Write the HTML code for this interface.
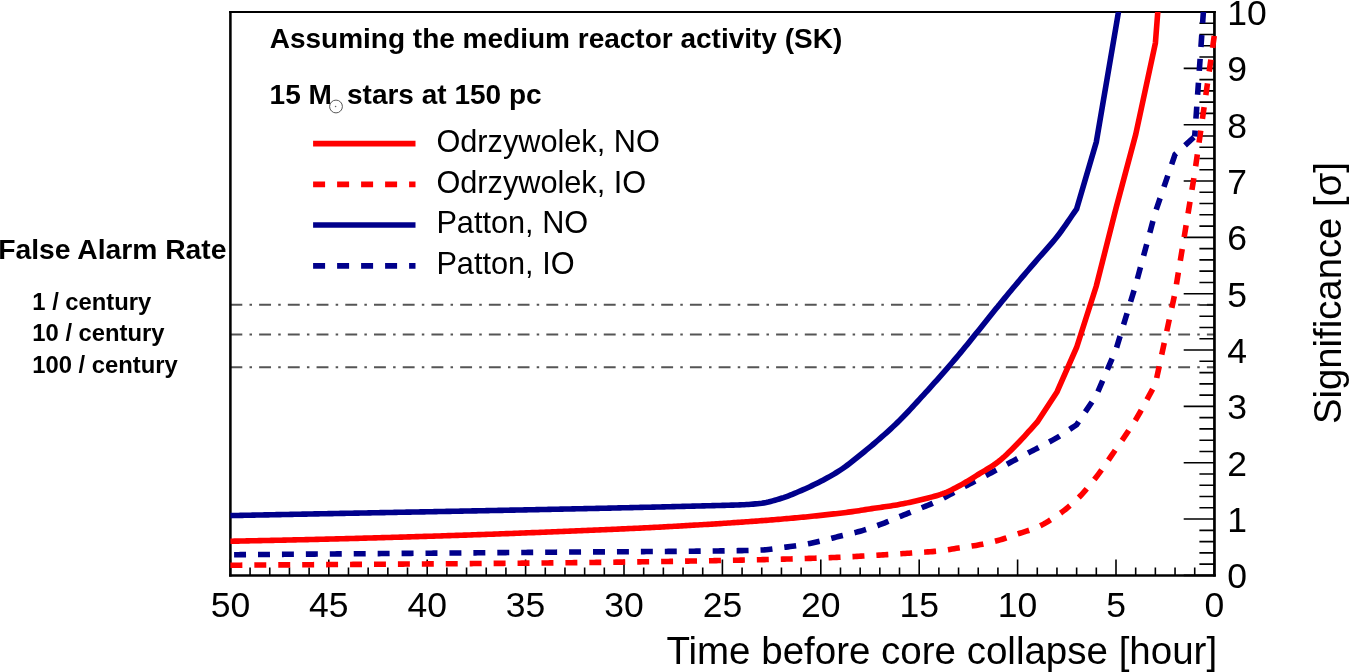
<!DOCTYPE html>
<html><head><meta charset="utf-8"><title>Significance vs time before core collapse</title>
<style>html,body{margin:0;padding:0;background:#fff;overflow:hidden}svg{display:block;will-change:transform}text{font-family:"Liberation Sans",sans-serif}</style>
</head><body>
<svg width="1350" height="672" viewBox="0 0 1350 672">
<defs><clipPath id="fr"><rect x="229.2" y="11.9" width="989" height="564.6"/></clipPath></defs>
<rect x="0" y="0" width="1350" height="672" fill="#fff"/>
<line x1="230.4" y1="304.75" x2="1214.4" y2="304.75" stroke="#555555" stroke-width="1.9" stroke-dasharray="11.9 7.2 2.5 7.12"/>
<line x1="230.4" y1="334.5" x2="1214.4" y2="334.5" stroke="#555555" stroke-width="1.9" stroke-dasharray="11.9 7.2 2.5 7.12"/>
<line x1="230.4" y1="367.25" x2="1214.4" y2="367.25" stroke="#555555" stroke-width="1.9" stroke-dasharray="11.9 7.2 2.5 7.12"/>
<path d="M1214.40 575.40V559.40M1194.72 575.40V567.40M1175.04 575.40V567.40M1155.36 575.40V567.40M1135.68 575.40V567.40M1116.00 575.40V559.40M1096.32 575.40V567.40M1076.64 575.40V567.40M1056.96 575.40V567.40M1037.28 575.40V567.40M1017.60 575.40V559.40M997.92 575.40V567.40M978.24 575.40V567.40M958.56 575.40V567.40M938.88 575.40V567.40M919.20 575.40V559.40M899.52 575.40V567.40M879.84 575.40V567.40M860.16 575.40V567.40M840.48 575.40V567.40M820.80 575.40V559.40M801.12 575.40V567.40M781.44 575.40V567.40M761.76 575.40V567.40M742.08 575.40V567.40M722.40 575.40V559.40M702.72 575.40V567.40M683.04 575.40V567.40M663.36 575.40V567.40M643.68 575.40V567.40M624.00 575.40V559.40M604.32 575.40V567.40M584.64 575.40V567.40M564.96 575.40V567.40M545.28 575.40V567.40M525.60 575.40V559.40M505.92 575.40V567.40M486.24 575.40V567.40M466.56 575.40V567.40M446.88 575.40V567.40M427.20 575.40V559.40M407.52 575.40V567.40M387.84 575.40V567.40M368.16 575.40V567.40M348.48 575.40V567.40M328.80 575.40V559.40M309.12 575.40V567.40M289.44 575.40V567.40M269.76 575.40V567.40M250.08 575.40V567.40M230.40 575.40V559.40M1214.40 575.40H1183.70M1214.40 564.13H1199.40M1214.40 552.86H1199.40M1214.40 541.60H1199.40M1214.40 530.33H1199.40M1214.40 519.06H1183.70M1214.40 507.79H1199.40M1214.40 496.52H1199.40M1214.40 485.26H1199.40M1214.40 473.99H1199.40M1214.40 462.72H1183.70M1214.40 451.45H1199.40M1214.40 440.18H1199.40M1214.40 428.92H1199.40M1214.40 417.65H1199.40M1214.40 406.38H1183.70M1214.40 395.11H1199.40M1214.40 383.84H1199.40M1214.40 372.58H1199.40M1214.40 361.31H1199.40M1214.40 350.04H1183.70M1214.40 338.77H1199.40M1214.40 327.50H1199.40M1214.40 316.24H1199.40M1214.40 304.97H1199.40M1214.40 293.70H1183.70M1214.40 282.43H1199.40M1214.40 271.16H1199.40M1214.40 259.90H1199.40M1214.40 248.63H1199.40M1214.40 237.36H1183.70M1214.40 226.09H1199.40M1214.40 214.82H1199.40M1214.40 203.56H1199.40M1214.40 192.29H1199.40M1214.40 181.02H1183.70M1214.40 169.75H1199.40M1214.40 158.48H1199.40M1214.40 147.22H1199.40M1214.40 135.95H1199.40M1214.40 124.68H1183.70M1214.40 113.41H1199.40M1214.40 102.14H1199.40M1214.40 90.88H1199.40M1214.40 79.61H1199.40M1214.40 68.34H1183.70M1214.40 57.07H1199.40M1214.40 45.80H1199.40M1214.40 34.54H1199.40M1214.40 23.27H1199.40M1214.40 12.00H1183.70" stroke="#000" stroke-width="1.6" fill="none"/>
<path d="M229.1 11.95H1215.8" stroke="#000" stroke-width="1.9" fill="none"/>
<path d="M229.1 575.4H1215.8" stroke="#000" stroke-width="2.45" fill="none"/>
<path d="M230.4 11H230.4V576.6" stroke="#000" stroke-width="2.55" fill="none"/>
<path d="M1214.45 11V576.6" stroke="#000" stroke-width="2.7" fill="none"/>
<g clip-path="url(#fr)" fill="none" stroke-width="5.6" stroke-linejoin="miter" stroke-miterlimit="4">
<polyline points="230.40,565.25 232.41,565.24 234.42,565.22 236.43,565.21 238.44,565.19 240.45,565.18 242.46,565.16 244.47,565.15 246.48,565.13 248.49,565.12 250.50,565.10 252.51,565.09 254.51,565.07 256.52,565.06 258.53,565.05 260.54,565.03 262.55,565.02 264.56,565.00 266.57,564.99 268.58,564.98 270.59,564.96 272.60,564.95 274.61,564.93 276.62,564.92 278.63,564.91 280.64,564.89 282.65,564.88 284.66,564.87 286.67,564.85 288.68,564.84 290.69,564.83 292.70,564.81 294.71,564.80 296.72,564.79 298.73,564.77 300.74,564.76 302.74,564.74 304.75,564.73 306.76,564.72 308.77,564.70 310.78,564.69 312.79,564.68 314.80,564.67 316.81,564.65 318.82,564.64 320.83,564.63 322.84,564.61 324.85,564.60 326.86,564.59 328.87,564.57 330.88,564.56 332.89,564.55 334.90,564.53 336.91,564.52 338.92,564.51 340.93,564.49 342.94,564.48 344.95,564.47 346.96,564.45 348.97,564.44 350.97,564.43 352.98,564.42 354.99,564.40 357.00,564.39 359.01,564.38 361.02,564.36 363.03,564.35 365.04,564.34 367.05,564.32 369.06,564.31 371.07,564.30 373.08,564.28 375.09,564.27 377.10,564.26 379.11,564.24 381.12,564.23 383.13,564.22 385.14,564.20 387.15,564.19 389.16,564.18 391.17,564.16 393.18,564.15 395.19,564.14 397.20,564.12 399.20,564.11 401.21,564.10 403.22,564.08 405.23,564.07 407.24,564.05 409.25,564.04 411.26,564.03 413.27,564.01 415.28,564.00 417.29,563.99 419.30,563.97 421.31,563.96 423.32,563.94 425.33,563.93 427.34,563.91 429.35,563.90 431.36,563.89 433.37,563.87 435.38,563.86 437.39,563.84 439.40,563.83 441.41,563.81 443.42,563.80 445.43,563.78 447.43,563.77 449.44,563.76 451.45,563.74 453.46,563.73 455.47,563.71 457.48,563.70 459.49,563.68 461.50,563.67 463.51,563.65 465.52,563.63 467.53,563.62 469.54,563.60 471.55,563.59 473.56,563.57 475.57,563.56 477.58,563.54 479.59,563.53 481.60,563.51 483.61,563.49 485.62,563.48 487.63,563.46 489.64,563.44 491.65,563.43 493.66,563.41 495.66,563.40 497.67,563.38 499.68,563.36 501.69,563.35 503.70,563.33 505.71,563.31 507.72,563.29 509.73,563.28 511.74,563.26 513.75,563.24 515.76,563.22 517.77,563.21 519.78,563.19 521.79,563.17 523.80,563.15 525.81,563.14 527.82,563.12 529.83,563.10 531.84,563.08 533.85,563.06 535.86,563.04 537.87,563.02 539.88,563.01 541.89,562.99 543.89,562.97 545.90,562.95 547.91,562.93 549.92,562.91 551.93,562.89 553.94,562.87 555.95,562.85 557.96,562.83 559.97,562.81 561.98,562.79 563.99,562.77 566.00,562.75 568.01,562.73 570.01,562.71 572.02,562.69 574.02,562.67 576.03,562.65 578.03,562.62 580.04,562.60 582.04,562.58 584.05,562.56 586.05,562.53 588.06,562.51 590.06,562.49 592.07,562.47 594.07,562.44 596.08,562.42 598.08,562.40 600.09,562.37 602.09,562.35 604.10,562.32 606.10,562.30 608.11,562.27 610.11,562.25 612.12,562.22 614.12,562.20 616.13,562.17 618.13,562.15 620.14,562.12 622.14,562.10 624.15,562.07 626.15,562.04 628.16,562.02 630.16,561.99 632.17,561.96 634.17,561.93 636.18,561.91 638.18,561.88 640.19,561.85 642.19,561.82 644.20,561.79 646.21,561.76 648.21,561.73 650.22,561.71 652.22,561.68 654.23,561.65 656.23,561.62 658.24,561.59 660.24,561.56 662.25,561.52 664.25,561.49 666.26,561.46 668.26,561.43 670.27,561.40 672.27,561.37 674.28,561.34 676.28,561.30 678.29,561.27 680.29,561.24 682.30,561.21 684.30,561.17 686.31,561.14 688.31,561.11 690.32,561.07 692.32,561.04 694.33,561.00 696.33,560.97 698.34,560.93 700.34,560.90 702.35,560.86 704.35,560.83 706.36,560.79 708.36,560.76 710.37,560.72 712.37,560.69 714.38,560.65 716.38,560.61 718.39,560.57 720.39,560.54 722.40,560.50 724.41,560.46 726.42,560.42 728.42,560.39 730.43,560.35 732.44,560.31 734.45,560.27 736.46,560.23 738.47,560.19 740.47,560.15 742.48,560.11 744.49,560.06 746.50,560.02 748.51,559.98 750.51,559.94 752.52,559.89 754.53,559.85 756.54,559.80 758.55,559.76 760.56,559.71 762.56,559.67 764.57,559.62 766.58,559.57 768.59,559.52 770.60,559.47 772.60,559.42 774.61,559.37 776.62,559.32 778.63,559.27 780.64,559.22 782.64,559.17 784.65,559.11 786.66,559.06 788.67,559.00 790.68,558.95 792.69,558.89 794.69,558.83 796.70,558.77 798.71,558.71 800.72,558.65 802.73,558.59 804.73,558.53 806.74,558.47 808.75,558.40 810.76,558.34 812.77,558.27 814.78,558.21 816.78,558.14 818.79,558.07 820.80,558.00 822.81,557.93 824.82,557.85 826.82,557.78 828.83,557.70 830.84,557.62 832.85,557.54 834.86,557.45 836.87,557.36 838.87,557.27 840.88,557.18 842.89,557.09 844.90,556.99 846.91,556.89 848.91,556.79 850.92,556.69 852.93,556.59 854.94,556.48 856.95,556.37 858.96,556.27 860.96,556.16 862.97,556.04 864.98,555.93 866.99,555.82 869.00,555.70 871.00,555.58 873.01,555.46 875.02,555.34 877.03,555.22 879.04,555.10 881.04,554.98 883.05,554.85 885.06,554.73 887.07,554.60 889.08,554.48 891.09,554.35 893.09,554.22 895.10,554.09 897.11,553.96 899.12,553.83 901.13,553.70 903.13,553.57 905.14,553.43 907.15,553.30 909.16,553.17 911.17,553.04 913.18,552.90 915.18,552.77 917.19,552.63 919.20,552.50 921.39,552.36 923.58,552.21 925.77,552.06 927.96,551.91 930.14,551.76 932.33,551.59 934.52,551.41 936.71,551.21 938.90,551.00 941.09,550.75 943.28,550.47 945.47,550.15 947.66,549.80 949.84,549.44 952.03,549.08 954.22,548.71 956.41,548.34 958.60,548.00 960.78,547.67 962.96,547.36 965.13,547.04 967.31,546.73 969.49,546.42 971.67,546.09 973.84,545.75 976.02,545.39 978.20,545.00 980.39,544.59 982.58,544.15 984.77,543.69 986.96,543.21 989.14,542.71 991.33,542.19 993.52,541.64 995.71,541.08 997.90,540.50 1000.09,539.88 1002.28,539.22 1004.47,538.52 1006.66,537.79 1008.84,537.04 1011.03,536.28 1013.22,535.51 1015.41,534.75 1017.60,534.00 1019.79,533.28 1021.98,532.58 1024.17,531.89 1026.36,531.19 1028.54,530.48 1030.73,529.74 1032.92,528.96 1035.11,528.11 1037.30,527.20 1039.49,526.20 1041.68,525.10 1043.87,523.92 1046.06,522.66 1048.24,521.34 1050.43,519.96 1052.62,518.54 1054.81,517.08 1057.00,515.60 1059.18,514.09 1061.36,512.51 1063.53,510.88 1065.71,509.18 1067.89,507.42 1070.07,505.60 1072.24,503.70 1074.42,501.74 1076.60,499.70 1078.79,497.55 1080.98,495.28 1083.17,492.89 1085.36,490.41 1087.54,487.85 1089.73,485.21 1091.92,482.51 1094.11,479.77 1096.30,477.00 1098.49,474.15 1100.68,471.20 1102.87,468.15 1105.06,465.03 1107.24,461.85 1109.43,458.64 1111.62,455.42 1113.81,452.20 1116.00,449.00 1118.19,445.83 1120.38,442.69 1122.57,439.55 1124.76,436.39 1126.94,433.19 1129.13,429.94 1131.32,426.62 1133.51,423.22 1135.70,419.70 1137.89,416.04 1140.08,412.24 1142.27,408.32 1144.46,404.32 1146.64,400.25 1148.83,396.16 1151.02,392.07 1153.21,388.01 1155.40,384.00 1175.00,293.00 1194.70,173.00 1214.40,35.00" stroke="#ff0000" stroke-dasharray="11.965 11.965"/>
<polyline points="230.40,554.75 232.41,554.73 234.42,554.72 236.43,554.70 238.44,554.69 240.45,554.67 242.46,554.65 244.47,554.64 246.48,554.62 248.49,554.61 250.50,554.59 252.51,554.58 254.51,554.56 256.52,554.54 258.53,554.53 260.54,554.51 262.55,554.50 264.56,554.48 266.57,554.47 268.58,554.45 270.59,554.43 272.60,554.42 274.61,554.40 276.62,554.39 278.63,554.37 280.64,554.36 282.65,554.34 284.66,554.32 286.67,554.31 288.68,554.29 290.69,554.28 292.70,554.26 294.71,554.25 296.72,554.23 298.73,554.21 300.74,554.20 302.74,554.18 304.75,554.17 306.76,554.15 308.77,554.14 310.78,554.12 312.79,554.10 314.80,554.09 316.81,554.07 318.82,554.06 320.83,554.04 322.84,554.03 324.85,554.01 326.86,553.99 328.87,553.98 330.88,553.96 332.89,553.95 334.90,553.93 336.91,553.92 338.92,553.90 340.93,553.89 342.94,553.87 344.95,553.85 346.96,553.84 348.97,553.82 350.97,553.81 352.98,553.79 354.99,553.78 357.00,553.76 359.01,553.74 361.02,553.73 363.03,553.71 365.04,553.70 367.05,553.68 369.06,553.67 371.07,553.65 373.08,553.63 375.09,553.62 377.10,553.60 379.11,553.59 381.12,553.57 383.13,553.56 385.14,553.54 387.15,553.53 389.16,553.51 391.17,553.49 393.18,553.48 395.19,553.46 397.20,553.45 399.20,553.43 401.21,553.42 403.22,553.40 405.23,553.38 407.24,553.37 409.25,553.35 411.26,553.34 413.27,553.32 415.28,553.31 417.29,553.29 419.30,553.27 421.31,553.26 423.32,553.24 425.33,553.23 427.34,553.21 429.35,553.19 431.36,553.18 433.37,553.16 435.38,553.15 437.39,553.13 439.40,553.12 441.41,553.10 443.42,553.08 445.43,553.07 447.43,553.05 449.44,553.04 451.45,553.02 453.46,553.01 455.47,552.99 457.48,552.97 459.49,552.96 461.50,552.94 463.51,552.93 465.52,552.91 467.53,552.89 469.54,552.88 471.55,552.86 473.56,552.85 475.57,552.83 477.58,552.81 479.59,552.80 481.60,552.78 483.61,552.77 485.62,552.75 487.63,552.73 489.64,552.72 491.65,552.70 493.66,552.69 495.66,552.67 497.67,552.65 499.68,552.64 501.69,552.62 503.70,552.61 505.71,552.59 507.72,552.57 509.73,552.56 511.74,552.54 513.75,552.52 515.76,552.51 517.77,552.49 519.78,552.48 521.79,552.46 523.80,552.44 525.81,552.43 527.82,552.41 529.83,552.40 531.84,552.38 533.85,552.36 535.86,552.35 537.87,552.33 539.88,552.31 541.89,552.30 543.89,552.28 545.90,552.26 547.91,552.25 549.92,552.23 551.93,552.22 553.94,552.20 555.95,552.18 557.96,552.17 559.97,552.15 561.98,552.13 563.99,552.12 566.00,552.10 568.00,552.08 570.00,552.07 572.00,552.05 574.00,552.04 576.01,552.02 578.01,552.01 580.01,551.99 582.01,551.98 584.01,551.96 586.01,551.95 588.01,551.93 590.01,551.92 592.01,551.91 594.02,551.89 596.02,551.88 598.02,551.87 600.02,551.85 602.02,551.84 604.02,551.83 606.02,551.82 608.02,551.80 610.02,551.79 612.03,551.78 614.03,551.77 616.03,551.75 618.03,551.74 620.03,551.73 622.03,551.72 624.03,551.70 626.03,551.69 628.04,551.68 630.04,551.67 632.04,551.66 634.04,551.64 636.04,551.63 638.04,551.62 640.04,551.61 642.04,551.59 644.04,551.58 646.05,551.57 648.05,551.55 650.05,551.54 652.05,551.53 654.05,551.51 656.05,551.50 658.05,551.49 660.05,551.47 662.05,551.46 664.06,551.44 666.06,551.43 668.06,551.41 670.06,551.40 672.06,551.38 674.06,551.37 676.06,551.35 678.06,551.33 680.06,551.32 682.07,551.30 684.07,551.28 686.07,551.27 688.07,551.25 690.07,551.23 692.07,551.21 694.07,551.19 696.07,551.17 698.08,551.15 700.08,551.13 702.08,551.11 704.08,551.09 706.08,551.07 708.08,551.05 710.08,551.03 712.08,551.00 714.08,550.98 716.09,550.96 718.09,550.93 720.09,550.91 722.09,550.88 724.09,550.86 726.09,550.83 728.09,550.80 730.09,550.78 732.09,550.75 734.10,550.72 736.10,550.69 738.10,550.66 740.10,550.63 742.10,550.60 744.29,550.56 746.48,550.52 748.67,550.47 750.86,550.41 753.04,550.35 755.23,550.27 757.42,550.19 759.61,550.10 761.80,550.00 763.98,549.87 766.16,549.68 768.33,549.45 770.51,549.18 772.69,548.89 774.87,548.59 777.04,548.29 779.22,547.99 781.40,547.70 783.59,547.42 785.78,547.15 787.97,546.87 790.16,546.59 792.34,546.29 794.53,545.99 796.72,545.68 798.91,545.35 801.10,545.00 803.29,544.63 805.48,544.23 807.67,543.81 809.86,543.38 812.04,542.92 814.23,542.46 816.42,541.98 818.61,541.49 820.80,541.00 822.99,540.49 825.18,539.96 827.37,539.41 829.56,538.84 831.74,538.27 833.93,537.69 836.12,537.12 838.31,536.55 840.50,536.00 842.69,535.47 844.88,534.95 847.07,534.44 849.26,533.93 851.44,533.42 853.63,532.90 855.82,532.36 858.01,531.80 860.20,531.20 862.38,530.57 864.56,529.91 866.73,529.23 868.91,528.52 871.09,527.79 873.27,527.04 875.44,526.27 877.62,525.49 879.80,524.70 881.99,523.88 884.18,523.03 886.37,522.15 888.56,521.25 890.74,520.34 892.93,519.42 895.12,518.50 897.31,517.59 899.50,516.70 901.69,515.82 903.88,514.95 906.07,514.07 908.26,513.20 910.44,512.33 912.63,511.46 914.82,510.58 917.01,509.69 919.20,508.80 921.39,507.91 923.58,507.02 925.77,506.14 927.96,505.25 930.14,504.36 932.33,503.44 934.52,502.49 936.71,501.52 938.90,500.50 941.09,499.43 943.28,498.30 945.47,497.12 947.66,495.91 949.84,494.68 952.03,493.44 954.22,492.21 956.41,490.99 958.60,489.80 960.78,488.64 962.96,487.49 965.13,486.34 967.31,485.20 969.49,484.06 971.67,482.92 973.84,481.78 976.02,480.64 978.20,479.50 980.39,478.36 982.58,477.22 984.77,476.08 986.96,474.94 989.14,473.80 991.33,472.66 993.52,471.51 995.71,470.36 997.90,469.20 1000.09,468.03 1002.28,466.84 1004.47,465.65 1006.66,464.45 1008.84,463.25 1011.03,462.05 1013.22,460.86 1015.41,459.67 1017.60,458.50 1019.79,457.34 1021.98,456.19 1024.17,455.05 1026.36,453.91 1028.54,452.78 1030.73,451.64 1032.92,450.50 1035.11,449.36 1037.30,448.20 1039.49,447.05 1041.68,445.90 1043.87,444.77 1046.06,443.62 1048.24,442.47 1050.43,441.30 1052.62,440.10 1054.81,438.87 1057.00,437.60 1059.18,436.29 1061.36,434.92 1063.53,433.52 1065.71,432.08 1067.89,430.62 1070.07,429.16 1072.24,427.69 1074.42,426.24 1076.60,424.80 1096.30,395.50 1116.00,349.50 1135.70,285.00 1155.40,212.00 1175.00,154.50 1194.70,136.50" stroke="#00008b" stroke-dasharray="11.965 11.965" stroke-dashoffset="20.25"/>
<polyline points="1194.70,136.50 1214.40,-146.00" stroke="#00008b" stroke-dasharray="11.965 11.965" stroke-dashoffset="5.97"/>
<polyline points="230.40,541.25 232.44,541.21 234.48,541.16 236.51,541.12 238.55,541.08 240.59,541.03 242.63,540.99 244.67,540.95 246.70,540.90 248.74,540.86 250.78,540.82 252.82,540.78 254.86,540.73 256.90,540.69 258.93,540.65 260.97,540.61 263.01,540.56 265.05,540.52 267.09,540.48 269.12,540.44 271.16,540.39 273.20,540.35 275.24,540.31 277.28,540.26 279.31,540.22 281.35,540.18 283.39,540.13 285.43,540.09 287.47,540.05 289.50,540.00 291.54,539.96 293.58,539.91 295.62,539.87 297.66,539.82 299.70,539.78 301.73,539.73 303.77,539.69 305.81,539.64 307.85,539.59 309.89,539.54 311.92,539.50 313.96,539.45 316.00,539.40 318.00,539.35 320.00,539.30 322.00,539.25 324.00,539.21 326.00,539.16 328.00,539.11 330.00,539.06 332.00,539.01 334.00,538.96 336.00,538.90 338.00,538.85 340.00,538.80 342.00,538.75 344.00,538.70 346.00,538.65 348.00,538.59 350.00,538.54 352.00,538.49 354.00,538.43 356.00,538.38 358.00,538.33 360.00,538.27 362.00,538.22 364.00,538.16 366.00,538.11 368.00,538.05 370.00,538.00 372.00,537.94 374.00,537.89 376.00,537.83 378.00,537.77 380.00,537.72 382.00,537.66 384.00,537.60 386.00,537.55 388.00,537.49 390.00,537.43 392.00,537.37 394.00,537.32 396.00,537.26 398.00,537.20 400.00,537.14 402.00,537.08 404.00,537.02 406.00,536.97 408.00,536.91 410.00,536.85 412.00,536.79 414.00,536.73 416.00,536.67 418.00,536.61 420.00,536.55 422.00,536.49 424.00,536.42 426.00,536.36 428.00,536.30 430.00,536.24 432.00,536.18 434.00,536.11 436.00,536.05 438.00,535.99 440.00,535.93 442.00,535.86 444.00,535.80 446.00,535.73 448.00,535.67 450.00,535.61 452.00,535.54 454.00,535.48 456.00,535.41 458.00,535.34 460.00,535.28 462.00,535.21 464.00,535.14 466.00,535.08 468.00,535.01 470.00,534.94 472.00,534.87 474.00,534.81 476.00,534.74 478.00,534.67 480.00,534.60 482.00,534.53 484.00,534.46 486.00,534.39 488.00,534.32 490.00,534.25 492.00,534.18 494.00,534.10 496.00,534.03 498.00,533.96 500.00,533.89 502.00,533.81 504.00,533.74 506.00,533.66 508.00,533.59 510.00,533.51 512.00,533.44 514.00,533.36 516.00,533.29 518.00,533.21 520.00,533.13 522.00,533.06 524.00,532.98 526.00,532.90 528.00,532.82 530.00,532.75 532.00,532.67 534.00,532.59 536.00,532.51 538.00,532.43 540.00,532.35 542.00,532.27 544.00,532.19 546.00,532.11 548.00,532.03 550.00,531.95 552.00,531.87 554.00,531.79 556.00,531.71 558.00,531.63 560.00,531.55 562.00,531.46 564.00,531.38 566.00,531.30 568.00,531.22 570.00,531.14 572.00,531.05 574.00,530.97 576.00,530.89 578.00,530.81 580.00,530.72 582.00,530.64 584.00,530.56 586.00,530.47 588.00,530.39 590.00,530.31 592.00,530.22 594.00,530.14 596.00,530.05 598.00,529.97 600.00,529.88 602.00,529.80 604.00,529.71 606.00,529.63 608.00,529.54 610.00,529.45 612.00,529.37 614.00,529.28 616.00,529.19 618.00,529.10 620.00,529.01 622.00,528.92 624.00,528.83 626.00,528.74 628.00,528.65 630.00,528.56 632.00,528.46 634.00,528.37 636.00,528.28 638.00,528.18 640.00,528.09 642.00,527.99 644.00,527.89 646.00,527.80 648.00,527.70 650.00,527.60 652.00,527.50 654.00,527.40 656.00,527.30 658.00,527.19 660.00,527.09 662.00,526.98 664.00,526.87 666.00,526.76 668.00,526.65 670.00,526.54 672.00,526.43 674.00,526.32 676.00,526.21 678.00,526.09 680.00,525.98 682.00,525.86 684.00,525.75 686.00,525.63 688.00,525.52 690.00,525.40 692.00,525.28 694.00,525.17 696.00,525.05 698.00,524.93 700.00,524.81 702.00,524.69 704.00,524.57 706.00,524.45 708.00,524.33 710.00,524.21 712.00,524.09 714.00,523.96 716.00,523.84 718.00,523.71 720.00,523.59 722.00,523.46 724.00,523.33 726.00,523.20 728.00,523.07 730.00,522.93 732.00,522.80 734.00,522.66 736.00,522.53 738.00,522.39 740.00,522.25 742.00,522.11 744.00,521.97 746.00,521.83 748.00,521.69 750.00,521.54 752.00,521.40 754.00,521.25 756.00,521.10 758.00,520.95 760.00,520.80 762.00,520.65 764.00,520.49 766.00,520.34 768.00,520.18 770.00,520.02 772.00,519.86 774.00,519.70 776.11,519.53 778.21,519.35 780.32,519.18 782.42,519.00 784.53,518.82 786.63,518.64 788.74,518.46 790.84,518.27 792.95,518.09 795.06,517.90 797.16,517.71 799.27,517.51 801.37,517.32 803.48,517.12 805.58,516.92 807.69,516.71 809.79,516.51 811.90,516.30 814.09,516.08 816.27,515.85 818.45,515.62 820.64,515.39 822.83,515.14 825.01,514.90 827.19,514.65 829.38,514.40 831.57,514.15 833.75,513.90 835.83,513.66 837.92,513.42 840.00,513.17 842.08,512.92 844.17,512.67 846.25,512.41 848.33,512.15 850.42,511.88 852.50,511.60 854.65,511.30 856.80,510.98 858.95,510.66 861.10,510.32 863.25,509.98 865.40,509.64 867.55,509.30 869.70,508.96 871.85,508.62 874.00,508.30 876.08,508.00 878.17,507.70 880.25,507.42 882.33,507.13 884.42,506.84 886.50,506.55 888.58,506.25 890.67,505.93 892.75,505.60 894.83,505.25 896.92,504.89 899.00,504.51 901.08,504.12 903.17,503.72 905.25,503.30 907.33,502.88 909.42,502.44 911.50,502.00 913.58,501.54 915.67,501.07 917.75,500.58 919.83,500.08 921.92,499.57 924.00,499.04 926.08,498.51 928.17,497.96 930.25,497.40 932.33,496.84 934.42,496.27 936.50,495.69 938.58,495.07 940.67,494.42 942.75,493.70 944.93,492.87 947.11,491.96 949.29,490.97 951.46,489.93 953.64,488.85 955.82,487.73 958.00,486.60 960.02,485.52 962.04,484.39 964.06,483.22 966.08,482.02 968.10,480.79 970.12,479.54 972.14,478.28 974.16,477.02 976.18,475.75 978.20,474.50 980.39,473.17 982.58,471.86 984.77,470.57 986.96,469.26 989.14,467.93 991.33,466.55 993.52,465.12 995.71,463.61 997.90,462.00 1000.09,460.27 1002.28,458.42 1004.47,456.47 1006.66,454.42 1008.84,452.31 1011.03,450.14 1013.22,447.94 1015.41,445.72 1017.60,443.50 1019.79,441.25 1021.98,438.94 1024.17,436.57 1026.36,434.17 1028.54,431.73 1030.73,429.29 1032.92,426.84 1035.11,424.41 1037.30,422.00 1057.00,392.00 1076.60,347.50 1096.30,286.00 1116.00,208.20 1135.70,134.50 1155.40,43.00 1175.00,-212.00" stroke="#ff0000"/>
<polyline points="230.40,515.60 232.40,515.56 234.40,515.52 236.40,515.48 238.40,515.43 240.40,515.39 242.40,515.35 244.40,515.31 246.40,515.27 248.40,515.23 250.40,515.19 252.40,515.15 254.40,515.11 256.40,515.07 258.40,515.03 260.40,514.99 262.40,514.95 264.40,514.91 266.40,514.87 268.40,514.83 270.40,514.79 272.40,514.75 274.40,514.71 276.40,514.67 278.40,514.63 280.40,514.59 282.40,514.55 284.40,514.51 286.40,514.47 288.40,514.43 290.40,514.39 292.40,514.35 294.40,514.31 296.40,514.27 298.40,514.23 300.40,514.20 302.40,514.16 304.40,514.12 306.40,514.08 308.40,514.04 310.40,514.00 312.40,513.96 314.40,513.92 316.40,513.88 318.40,513.85 320.40,513.81 322.40,513.77 324.40,513.73 326.40,513.69 328.40,513.65 330.40,513.62 332.40,513.58 334.40,513.54 336.40,513.50 338.40,513.46 340.40,513.42 342.40,513.39 344.40,513.35 346.40,513.31 348.40,513.27 350.40,513.23 352.40,513.20 354.40,513.16 356.40,513.12 358.40,513.08 360.40,513.04 362.40,513.01 364.40,512.97 366.40,512.93 368.40,512.89 370.40,512.85 372.40,512.82 374.40,512.78 376.40,512.74 378.40,512.70 380.40,512.66 382.40,512.63 384.40,512.59 386.40,512.55 388.40,512.51 390.40,512.47 392.40,512.44 394.40,512.40 396.40,512.36 398.40,512.32 400.40,512.29 402.40,512.25 404.40,512.21 406.40,512.17 408.40,512.13 410.40,512.10 412.40,512.06 414.40,512.02 416.40,511.98 418.40,511.95 420.40,511.91 422.40,511.87 424.40,511.83 426.40,511.79 428.40,511.76 430.40,511.72 432.40,511.68 434.40,511.64 436.40,511.60 438.40,511.57 440.40,511.53 442.40,511.49 444.40,511.45 446.40,511.41 448.40,511.37 450.40,511.34 452.40,511.30 454.40,511.26 456.40,511.22 458.40,511.18 460.40,511.14 462.40,511.11 464.40,511.07 466.40,511.03 468.40,510.99 470.40,510.95 472.40,510.91 474.40,510.88 476.40,510.84 478.40,510.80 480.40,510.76 482.40,510.72 484.40,510.68 486.40,510.64 488.40,510.60 490.40,510.56 492.40,510.53 494.40,510.49 496.40,510.45 498.40,510.41 500.40,510.37 502.40,510.33 504.40,510.29 506.40,510.25 508.40,510.21 510.40,510.17 512.40,510.13 514.40,510.09 516.40,510.05 518.40,510.01 520.40,509.97 522.40,509.93 524.40,509.89 526.40,509.85 528.40,509.81 530.40,509.77 532.40,509.73 534.40,509.69 536.40,509.65 538.40,509.61 540.40,509.57 542.40,509.53 544.40,509.49 546.40,509.45 548.40,509.40 550.40,509.36 552.40,509.32 554.40,509.28 556.40,509.24 558.40,509.20 560.40,509.16 562.40,509.12 564.40,509.07 566.40,509.03 568.40,508.99 570.40,508.95 572.40,508.91 574.40,508.86 576.40,508.82 578.40,508.78 580.40,508.74 582.40,508.69 584.40,508.65 586.40,508.61 588.40,508.57 590.40,508.52 592.40,508.48 594.40,508.44 596.40,508.39 598.40,508.35 600.40,508.31 602.40,508.26 604.40,508.22 606.40,508.18 608.40,508.13 610.40,508.09 612.40,508.04 614.40,508.00 616.40,507.95 618.40,507.91 620.40,507.87 622.40,507.82 624.40,507.78 626.40,507.73 628.40,507.69 630.40,507.64 632.40,507.59 634.40,507.55 636.40,507.50 638.40,507.46 640.40,507.41 642.40,507.37 644.40,507.32 646.40,507.27 648.40,507.23 650.40,507.18 652.40,507.13 654.40,507.09 656.40,507.04 658.40,506.99 660.40,506.94 662.40,506.90 664.40,506.85 666.40,506.80 668.40,506.75 670.40,506.71 672.40,506.66 674.40,506.61 676.40,506.56 678.40,506.51 680.40,506.46 682.40,506.41 684.40,506.36 686.40,506.32 688.40,506.27 690.40,506.22 692.40,506.17 694.40,506.12 696.40,506.07 698.40,506.02 700.40,505.97 702.40,505.92 704.40,505.86 706.40,505.81 708.40,505.76 710.40,505.71 712.40,505.66 714.40,505.61 716.40,505.56 718.40,505.50 720.40,505.45 722.40,505.40 724.59,505.34 726.78,505.29 728.97,505.23 731.16,505.17 733.34,505.11 735.53,505.05 737.72,504.97 739.91,504.89 742.10,504.80 744.29,504.70 746.48,504.57 748.67,504.43 750.86,504.28 753.04,504.10 755.23,503.91 757.42,503.69 759.61,503.46 761.80,503.20 763.98,502.89 766.16,502.49 768.33,502.02 770.51,501.48 772.69,500.90 774.87,500.28 777.04,499.63 779.22,498.97 781.40,498.30 783.59,497.60 785.78,496.84 787.97,496.04 790.16,495.19 792.34,494.31 794.53,493.40 796.72,492.47 798.91,491.54 801.10,490.60 803.29,489.65 805.48,488.69 807.67,487.70 809.86,486.69 812.04,485.65 814.23,484.60 816.42,483.52 818.61,482.42 820.80,481.30 822.99,480.16 825.18,479.00 827.37,477.81 829.56,476.60 831.74,475.36 833.93,474.08 836.12,472.77 838.31,471.41 840.50,470.00 842.69,468.53 844.88,466.98 847.07,465.37 849.26,463.70 851.44,462.00 853.63,460.26 855.82,458.51 858.01,456.75 860.20,455.00 862.38,453.25 864.56,451.49 866.73,449.70 868.91,447.90 871.09,446.08 873.27,444.24 875.44,442.38 877.62,440.50 879.80,438.60 881.99,436.68 884.18,434.74 886.37,432.79 888.56,430.81 890.74,428.82 892.93,426.79 895.12,424.73 897.31,422.63 899.50,420.50 901.69,418.31 903.88,416.07 906.07,413.79 908.26,411.47 910.44,409.11 912.63,406.74 914.82,404.36 917.01,401.98 919.20,399.60 921.39,397.22 923.58,394.84 925.77,392.44 927.96,390.03 930.14,387.61 932.33,385.17 934.52,382.73 936.71,380.27 938.90,377.80 941.09,375.32 943.28,372.83 945.47,370.33 947.66,367.81 949.84,365.28 952.03,362.74 954.22,360.18 956.41,357.60 958.60,355.00 960.78,352.39 962.96,349.75 965.13,347.08 967.31,344.40 969.49,341.71 971.67,339.01 973.84,336.30 976.02,333.60 978.20,330.90 980.39,328.19 982.58,325.46 984.77,322.73 986.96,319.99 989.14,317.26 991.33,314.52 993.52,311.80 995.71,309.09 997.90,306.40 1000.09,303.72 1002.28,301.05 1004.47,298.39 1006.66,295.74 1008.84,293.09 1011.03,290.46 1013.22,287.83 1015.41,285.21 1017.60,282.60 1019.79,280.00 1021.98,277.41 1024.17,274.83 1026.36,272.26 1028.54,269.70 1030.73,267.14 1032.92,264.59 1035.11,262.05 1037.30,259.50 1039.49,256.99 1041.68,254.52 1043.87,252.08 1046.06,249.64 1048.24,247.19 1050.43,244.70 1052.62,242.15 1054.81,239.53 1057.00,236.80 1059.18,233.96 1061.36,231.01 1063.53,227.96 1065.71,224.84 1067.89,221.67 1070.07,218.48 1072.24,215.29 1074.42,212.12 1076.60,209.00 1096.30,142.00 1116.00,26.60 1135.70,-90.00" stroke="#00008b"/>
</g>
<line x1="313.1" y1="143.6" x2="415.5" y2="143.6" stroke="#ff0000" stroke-width="5.6"/>
<line x1="313.1" y1="184.4" x2="415.5" y2="184.4" stroke="#ff0000" stroke-width="5.6" stroke-dasharray="12 12"/>
<line x1="313.1" y1="225" x2="415.5" y2="225" stroke="#00008b" stroke-width="5.6"/>
<line x1="313.1" y1="265.9" x2="415.5" y2="265.9" stroke="#00008b" stroke-width="5.6" stroke-dasharray="12 12"/>
<g font-family="Liberation Sans, sans-serif" fill="#000">
<text x="269.7" y="47.6" font-size="28" font-weight="bold">Assuming the medium reactor activity (SK)</text>
<text x="269.6" y="103.6" font-size="28" font-weight="bold">15 M</text>
<text x="347" y="103.6" font-size="28" font-weight="bold">stars at 150 pc</text>
<text x="436.4" y="152.1" font-size="30.7">Odrzywolek, NO</text>
<text x="436.4" y="192.6" font-size="30.7">Odrzywolek, IO</text>
<text x="436.4" y="233.1" font-size="30.7">Patton, NO</text>
<text x="436.4" y="273.6" font-size="30.7">Patton, IO</text>
<text x="-1.8" y="258.8" font-size="28.25" font-weight="bold">False Alarm Rate</text>
<text x="32.3" y="310" font-size="23.8" font-weight="bold">1 / century</text>
<text x="32.3" y="340.7" font-size="23.8" font-weight="bold">10 / century</text>
<text x="32.3" y="373.1" font-size="23.8" font-weight="bold">100 / century</text>
<text x="1214.40" y="617.4" font-size="35.5" text-anchor="middle">0</text>
<text x="1116.00" y="617.4" font-size="35.5" text-anchor="middle">5</text>
<text x="1017.60" y="617.4" font-size="35.5" text-anchor="middle">10</text>
<text x="919.20" y="617.4" font-size="35.5" text-anchor="middle">15</text>
<text x="820.80" y="617.4" font-size="35.5" text-anchor="middle">20</text>
<text x="722.40" y="617.4" font-size="35.5" text-anchor="middle">25</text>
<text x="624.00" y="617.4" font-size="35.5" text-anchor="middle">30</text>
<text x="525.60" y="617.4" font-size="35.5" text-anchor="middle">35</text>
<text x="427.20" y="617.4" font-size="35.5" text-anchor="middle">40</text>
<text x="328.80" y="617.4" font-size="35.5" text-anchor="middle">45</text>
<text x="230.40" y="617.4" font-size="35.5" text-anchor="middle">50</text>
<text x="1227.3" y="588.30" font-size="35.5">0</text>
<text x="1227.3" y="531.96" font-size="35.5">1</text>
<text x="1227.3" y="475.62" font-size="35.5">2</text>
<text x="1227.3" y="419.28" font-size="35.5">3</text>
<text x="1227.3" y="362.94" font-size="35.5">4</text>
<text x="1227.3" y="306.60" font-size="35.5">5</text>
<text x="1227.3" y="250.26" font-size="35.5">6</text>
<text x="1227.3" y="193.92" font-size="35.5">7</text>
<text x="1227.3" y="137.58" font-size="35.5">8</text>
<text x="1227.3" y="81.24" font-size="35.5">9</text>
<text x="1227.3" y="24.90" font-size="35.5">10</text>
<text x="1217.1" y="664.3" font-size="38.5" text-anchor="end">Time before core collapse [hour]</text>
<text transform="translate(1341,424.1) rotate(-90)" font-size="38.3">Significance [σ]</text>
</g>
<circle cx="336" cy="106.5" r="6.4" fill="none" stroke="#444" stroke-width="0.9"/>
<circle cx="335.6" cy="106.5" r="0.8" fill="#666"/>
</svg>
</body></html>
